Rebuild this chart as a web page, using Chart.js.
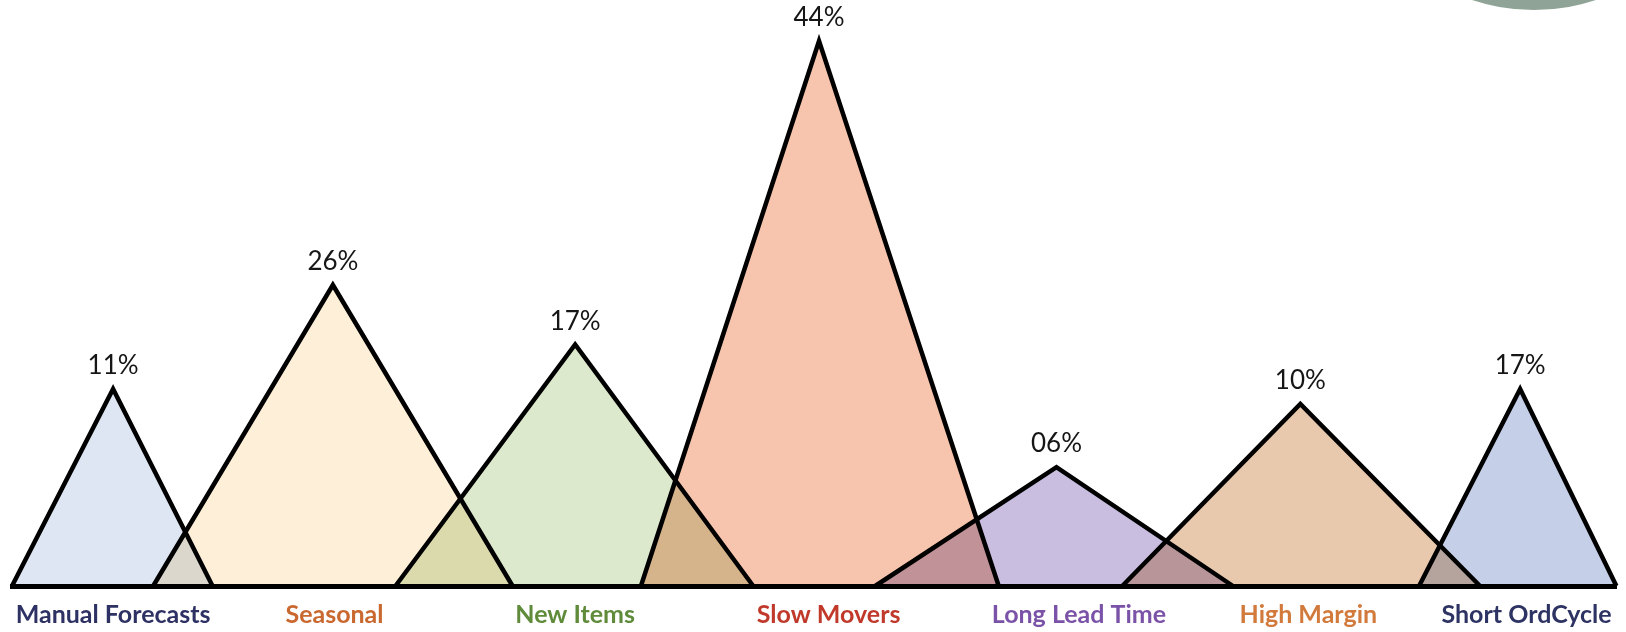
<!DOCTYPE html>
<html>
<head>
<meta charset="utf-8">
<script src="https://cdn.jsdelivr.net/npm/chart.js@4.4.1/dist/chart.umd.min.js"></script>
<style>
  html, body { margin: 0; padding: 0; background: #ffffff; }
  #wrap { position: relative; width: 1626px; height: 632px; }
</style>
</head>
<body>
<div id="wrap"><canvas id="c"></canvas></div>
<script>
// ---- data ----
const categories = ['Manual Forecasts', 'Seasonal', 'New Items', 'Slow Movers', 'Long Lead Time', 'High Margin', 'Short OrdCycle'];
const percentLabels = ['11%', '26%', '17%', '44%', '06%', '10%', '17%'];
// apparent peak heights (same units as Slow Movers = 44)
const peakHeights = [15.9, 24.3, 19.5, 44, 9.6, 14.7, 15.9];
// horizontal position of each triangle (percent of the baseline width)
const baseStart = [0, 8.8, 23.9, 39.2, 53.8, 69.2, 87.7];
const peakPos   = [6.3, 20.0, 35.1, 50.3, 65.1, 80.3, 94.0];
const baseEnd   = [12.5, 31.2, 46.2, 61.5, 76.1, 91.5, 100];
// category tick label positions (same units)
const tickPos   = [6.3, 20.1, 35.1, 50.9, 66.5, 80.8, 94.4];

const fillColors  = ['#dde6f2', '#fdefd8', '#dde9cc', '#f7c5ae', '#c9bde0', '#e9c9ad', '#c6cfe8'];
const labelColors = ['#2e3163', '#c9682f', '#5f8b3b', '#c0392b', '#7a52a8', '#d27a3c', '#2d3363'];

const datasets = categories.map((name, i) => ({
  label: name,
  data: [
    { x: baseStart[i], y: 0 },
    { x: peakPos[i], y: peakHeights[i] },
    { x: baseEnd[i], y: 0 }
  ],
  showLine: true,
  fill: 'origin',
  backgroundColor: fillColors[i],
  borderColor: '#000000',
  borderWidth: 4.5,
  borderJoinStyle: 'miter',
  pointRadius: 0,
  pointHoverRadius: 0,
  tension: 0,
  clip: false
}));

const multiplyPlugin = {
  id: 'multiplyBlend',
  beforeDraw(chart) {
    chart.ctx.globalCompositeOperation = 'multiply';
  },
  afterDraw(chart) {
    chart.ctx.globalCompositeOperation = 'source-over';
  }
};

const peakLabelPlugin = {
  id: 'peakLabels',
  afterDatasetsDraw(chart) {
    const { ctx, scales } = chart;
    ctx.save();
    ctx.globalCompositeOperation = 'source-over';
    ctx.font = '26px Lato';
    ctx.fillStyle = '#161616';
    ctx.textAlign = 'center';
    ctx.textBaseline = 'middle';
    percentLabels.forEach((t, i) => {
      const x = scales.x.getPixelForValue(peakPos[i]);
      const y = scales.y.getPixelForValue(peakHeights[i]);
      ctx.fillText(t, x, y - 23);
    });
    ctx.restore();
  }
};

const cornerPlugin = {
  id: 'cornerDisc',
  afterDraw(chart) {
    const ctx = chart.ctx;
    const w = chart.width;
    ctx.save();
    ctx.globalCompositeOperation = 'source-over';
    ctx.fillStyle = '#8fa396';
    ctx.beginPath();
    ctx.ellipse(w - 92, -150, 178, 160, 0, 0, Math.PI * 2);
    ctx.fill();
    ctx.restore();
  }
};

new Chart(document.getElementById('c'), {
  type: 'scatter',
  data: { datasets },
  options: {
    responsive: true,
    maintainAspectRatio: false,
    animation: false,
    layout: { padding: { top: 41, left: 12, right: 6, bottom: 0 } },
    plugins: {
      legend: { display: false },
      tooltip: { enabled: false }
    },
    scales: {
      x: {
        type: 'linear',
        min: 0,
        max: 100,
        grid: { display: false, drawTicks: false },
        border: { display: true, color: '#000000', width: 5 },
        afterBuildTicks(scale) {
          scale.ticks = tickPos.map(v => ({ value: v }));
        },
        afterFit(scale) {
          scale.height = 46;
        },
        ticks: {
          autoSkip: false,
          maxRotation: 0,
          minRotation: 0,
          padding: 14,
          font: { family: 'Lato', size: 25, weight: 'bold', lineHeight: 1.2 },
          color: (ctx) => labelColors[ctx.index],
          callback: (value, index) => categories[index]
        }
      },
      y: {
        type: 'linear',
        min: 0,
        max: 44,
        display: false
      }
    }
  },
  plugins: [multiplyPlugin, peakLabelPlugin, cornerPlugin]
});
</script>
</body>
</html>
